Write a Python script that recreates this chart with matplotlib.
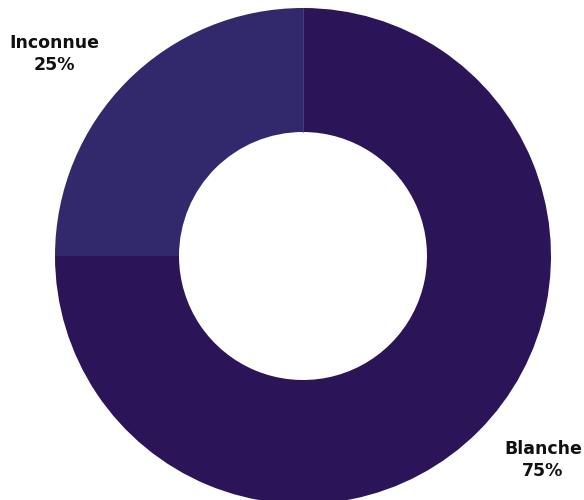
import matplotlib
matplotlib.use("Agg")
import matplotlib.pyplot as plt

categories = ["Blanche", "Inconnue"]
values = [75, 25]
colors = ["#2b1458", "#31296b"]

fig = plt.figure(figsize=(5.84, 5.0), dpi=100)
ax = fig.add_axes([0, 0, 1, 1])

cx, cy, r = 303, 500 - 256, 248
wedges, _ = ax.pie(values, colors=colors, startangle=90, counterclock=False,
                   center=(cx, cy), radius=r, frame=True,
                   wedgeprops=dict(width=r * 0.5, linewidth=0))
ax.plot([cx, cx], [cy + r * 0.5, cy + r], color="#5a4c8c", linewidth=0.5)
ax.set_xlim(0, 584)
ax.set_ylim(0, 500)
ax.set_aspect("equal")
ax.axis("off")

label_pos = {"Blanche": (543, 500 - 460), "Inconnue": (54, 500 - 54)}
for c, v in zip(categories, values):
    x, y = label_pos[c]
    ax.text(x, y, f"{c}\n{v}%", ha="center", va="center", fontsize=12.5,
            fontweight="bold", family=["DejaVu Sans"], color="#111111",
            linespacing=1.3)

fig.savefig("out.png", dpi=100)
